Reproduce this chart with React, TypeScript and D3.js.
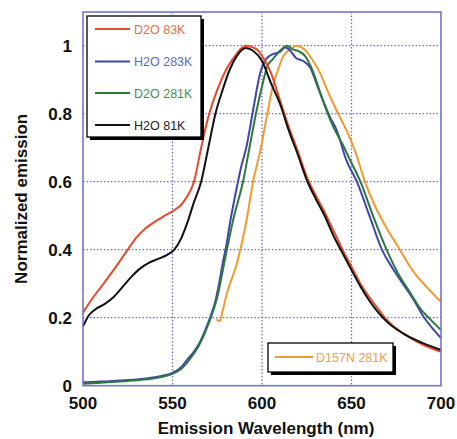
import React from "react";
import * as d3 from "d3";

const xTicks = [500, 550, 600, 650, 700];
const yTicks = [0, 0.2, 0.4, 0.6, 0.8, 1];
const yTickLabels = ["0", "0.2", "0.4", "0.6", "0.8", "1"];

const redX = [500, 505, 510, 515, 520, 525, 530, 535, 540, 545, 550, 555, 558, 562, 566, 570, 575, 580, 585, 588, 591, 595, 598, 600, 605, 610, 615, 620, 625, 630, 635, 640, 645, 650, 655, 660, 665, 670, 680, 690, 700];
const redY = [0.215, 0.255, 0.29, 0.325, 0.362, 0.4, 0.437, 0.463, 0.482, 0.498, 0.513, 0.533, 0.555, 0.6, 0.7, 0.79, 0.87, 0.93, 0.97, 0.99, 1.0, 0.995, 0.985, 0.97, 0.92, 0.84, 0.76, 0.69, 0.615, 0.56, 0.51, 0.455, 0.4, 0.35, 0.3, 0.26, 0.225, 0.192, 0.15, 0.12, 0.1];

const blackX = [500, 503, 507, 512, 517, 522, 527, 532, 537, 542, 547, 551, 555, 558, 562, 566, 570, 574, 578, 582, 586, 591, 595, 600, 605, 610, 615, 620, 625, 630, 635, 640, 645, 650, 655, 660, 665, 670, 680, 690, 700];
const blackY = [0.174, 0.205, 0.225, 0.24, 0.26, 0.29, 0.32, 0.345, 0.362, 0.373, 0.385, 0.4, 0.435, 0.475, 0.54, 0.6, 0.7, 0.8, 0.87, 0.93, 0.97, 0.993, 0.985, 0.955, 0.89, 0.83, 0.75, 0.68, 0.605, 0.55, 0.5, 0.44, 0.39, 0.34, 0.292, 0.25, 0.215, 0.187, 0.15, 0.125, 0.105];

const blueX = [500, 510, 520, 530, 540, 545, 550, 555, 558, 562, 565, 568, 571, 574, 576, 578.4, 580, 582, 586, 588, 591.4, 595, 599, 602.6, 606, 610, 613, 615, 619, 623, 627, 631, 634, 638, 641.7, 647, 653, 660, 667, 673, 680, 685, 690, 695, 700];
const blueY = [0.01, 0.012, 0.015, 0.018, 0.025, 0.03, 0.038, 0.055, 0.075, 0.1, 0.125, 0.16, 0.2, 0.25, 0.3, 0.37, 0.41, 0.475, 0.585, 0.635, 0.705, 0.81, 0.92, 0.963, 0.975, 0.982, 0.995, 0.99, 0.964, 0.955, 0.935, 0.88, 0.84, 0.79, 0.752, 0.665, 0.6, 0.5, 0.4, 0.345, 0.29, 0.25, 0.205, 0.17, 0.14];

const greenX = [500, 510, 520, 530, 540, 545, 550, 555, 560, 565, 570, 575, 580, 584, 589.6, 593, 597, 600, 603, 606, 610, 614, 617, 620, 624, 628, 632, 636, 640, 645, 650, 655, 662, 669.6, 676, 682, 688, 694, 700];
const greenY = [0.006, 0.009, 0.012, 0.016, 0.022, 0.027, 0.035, 0.05, 0.08, 0.12, 0.18, 0.26, 0.39, 0.49, 0.605, 0.7, 0.81, 0.88, 0.94, 0.96, 0.985, 1.0, 0.99, 0.985, 0.97, 0.93, 0.87, 0.81, 0.76, 0.71, 0.655, 0.6, 0.5, 0.4, 0.33, 0.28, 0.23, 0.195, 0.164];

const orangeX = [574.5, 576.5, 578, 580.3, 586, 591.4, 595, 599, 602.6, 606, 609, 612, 616, 619.4, 622, 625, 628.5, 632.4, 636, 639.8, 643.5, 647.3, 652, 657.5, 663, 670, 677, 684, 692, 700];
const orangeY = [0.195, 0.19, 0.22, 0.27, 0.36, 0.487, 0.6, 0.69, 0.79, 0.88, 0.93, 0.97, 0.99, 1.0, 0.995, 0.982, 0.955, 0.92, 0.875, 0.83, 0.79, 0.75, 0.69, 0.6, 0.53, 0.46, 0.4, 0.34, 0.29, 0.247];

const seriesNames = ["D2O 83K", "H2O 283K", "D2O 281K", "H2O 81K", "D157N 281K"];

const W = 457;
const H = 439;
const left = 83, right = 441, top = 12, bottom = 385.7;

export default function App() {
  const x = d3.scaleLinear().domain([500, 700]).range([left, right]);
  const y = d3.scaleLinear().domain([0, 1.1]).range([bottom, bottom - 1.1 * 340]);
  const line = (xs: number[], ys: number[]) =>
    d3.line<number>().x((_, i) => x(xs[i])).y((v) => y(v)).curve(d3.curveMonotoneX)(ys) || "";

  const series = [
    { xs: orangeX, ys: orangeY, color: "#f29a30" },
    { xs: blueX, ys: blueY, color: "#3e46ad" },
    { xs: greenX, ys: greenY, color: "#2b7a3b" },
    { xs: redX, ys: redY, color: "#e8482a" },
    { xs: blackX, ys: blackY, color: "#111111" },
  ];
  const legendItems = [
    { name: seriesNames[0], color: "#e8482a", text: "#ee6a4e" },
    { name: seriesNames[1], color: "#3e46ad", text: "#6068bb" },
    { name: seriesNames[2], color: "#2b7a3b", text: "#4b8a58" },
    { name: seriesNames[3], color: "#111111", text: "#222222" },
  ];
  const legendRows = [29, 61.5, 93, 125];
  const grid = "#6e6ec8";
  const font = "Liberation Sans, Arial, sans-serif";

  return (
    <svg width={W} height={H} style={{ position: "absolute", left: 0, top: 0, background: "#fff" }} fontFamily={font}>
      <rect x={0} y={0} width={W} height={H} fill="#fff" />
      {xTicks.slice(1, -1).map((t) => (
        <line key={"gx" + t} x1={x(t)} x2={x(t)} y1={top} y2={bottom} stroke={grid} strokeWidth={1.3} strokeDasharray="1.5,2" />
      ))}
      {yTicks.slice(1).map((t) => (
        <line key={"gy" + t} x1={left} x2={right} y1={y(t)} y2={y(t)} stroke={grid} strokeWidth={1.3} strokeDasharray="1.5,2" />
      ))}
      {series.map((s, i) => (
        <path key={i} d={line(s.xs, s.ys)} fill="none" stroke={s.color} strokeWidth={2} />
      ))}
      <rect x={left} y={top} width={right - left} height={bottom - top} fill="none" stroke="#7474cc" strokeWidth={1.6} />
      {xTicks.map((t) => (
        <text key={"xt" + t} x={x(t)} y={409} textAnchor="middle" fontSize={17} fontWeight="bold" fill="#111">{t}</text>
      ))}
      {yTicks.map((t, i) => (
        <text key={"yt" + t} x={72} y={y(t) + 6} textAnchor="end" fontSize={17} fontWeight="bold" fill="#111">{yTickLabels[i]}</text>
      ))}
      <text x={266} y={434} textAnchor="middle" fontSize={17} fontWeight="bold" fill="#111">Emission Wavelength (nm)</text>
      <text transform={`translate(27,${(top + bottom) / 2}) rotate(-90)`} textAnchor="middle" fontSize={17} fontWeight="bold" fill="#111">Normalized emission</text>

      <rect x={90} y={19} width={114} height={121} fill="#000" />
      <rect x={87} y={16} width={114} height={121} fill="#fff" stroke="#000" strokeWidth={1.3} />
      {legendItems.map((it, i) => (
        <g key={it.name}>
          <line x1={95} x2={130} y1={legendRows[i]} y2={legendRows[i]} stroke={it.color} strokeWidth={2} />
          <text x={134} y={legendRows[i] + 4.5} fontSize={12.5} fill={it.text}>{it.name}</text>
        </g>
      ))}

      <rect x={271} y={346} width={125} height={29} fill="#000" />
      <rect x={268} y={343} width={125} height={29} fill="#fff" stroke="#000" strokeWidth={1.3} />
      <line x1={275} x2={313} y1={357} y2={357} stroke="#f29a30" strokeWidth={2} />
      <text x={316} y={361.5} fontSize={12.5} fill="#f0a050">{seriesNames[4]}</text>
    </svg>
  );
}
